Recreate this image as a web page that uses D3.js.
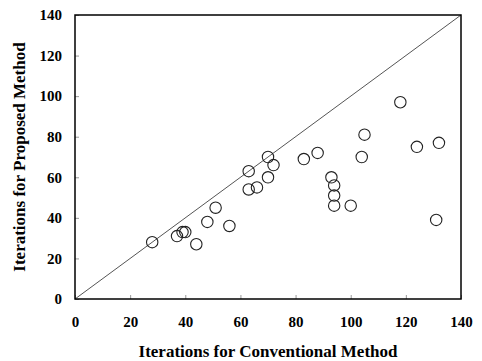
<!DOCTYPE html>
<html>
<head>
<meta charset="utf-8">
<script src="https://cdn.jsdelivr.net/npm/d3@7"></script>
<style>
  body { margin: 0; background: #fff; }
  svg { display: block; }
  text { font-family: "Liberation Serif", "Times New Roman", serif; font-weight: bold; fill: #000; }
</style>
</head>
<body>
<figure id="scatter" style="margin:0"></figure>
<script>
// iterations needed by each method, one entry per test case
const conventional = [28, 37, 39, 40, 44, 48, 51, 56, 63, 63, 66, 70, 72, 70, 83, 88, 93, 94, 94, 94, 100, 104, 105, 118, 124, 132, 131];
const proposed     = [28, 31, 33, 33, 27, 38, 45, 36, 63, 54, 55, 70, 66, 60, 69, 72, 60, 56, 51, 46, 46, 70, 81, 97, 75, 77, 39];
const tickValues = [0, 20, 40, 60, 80, 100, 120, 140];

const width = 482, height = 361;
const margin = { top: 15, right: 21, bottom: 62, left: 75 };
const w = width - margin.left - margin.right;
const h = height - margin.top - margin.bottom;

const svg = d3.select("figure#scatter")
  .append("svg")
  .attr("width", width)
  .attr("height", height)
  .append("g")
  .attr("transform", "translate(" + margin.left + "," + margin.top + ")");

const x = d3.scaleLinear().domain([0, 140]).range([0, w]);
const y = d3.scaleLinear().domain([0, 140]).range([h, 0]);

// inward ticks, labels drawn separately
const xAxis = svg.append("g")
  .attr("transform", "translate(0," + h + ")")
  .call(d3.axisBottom(x).tickValues(tickValues).tickSize(-4).tickPadding(17));
xAxis.select(".domain").remove();
xAxis.selectAll("line").attr("stroke", "#999");
xAxis.selectAll("text").attr("dy", "0.71em");

const yAxis = svg.append("g")
  .call(d3.axisLeft(y).tickValues(tickValues).tickSize(-4).tickPadding(13));
yAxis.select(".domain").remove();
yAxis.selectAll("line").attr("stroke", "#999");
svg.selectAll(".tick text")
  .style("font-size", "15px")
  .style("font-family", "'Liberation Serif', serif")
  .style("font-weight", "bold");

// 1:1 reference line
svg.append("line")
  .attr("x1", x(0)).attr("y1", y(0))
  .attr("x2", x(140)).attr("y2", y(140))
  .attr("stroke", "#555")
  .attr("stroke-width", 1);

svg.selectAll("circle")
  .data(conventional.map((c, i) => [c, proposed[i]]))
  .enter()
  .append("circle")
  .attr("cx", d => x(d[0]))
  .attr("cy", d => y(d[1]))
  .attr("r", 5.7)
  .attr("fill", "none")
  .attr("stroke", "#222")
  .attr("stroke-width", 1.1);

// frame
svg.append("rect")
  .attr("width", w).attr("height", h)
  .attr("fill", "none")
  .attr("stroke", "#000")
  .attr("stroke-width", 1.5);

svg.append("text")
  .attr("x", w / 2)
  .attr("y", h + 58)
  .attr("text-anchor", "middle")
  .attr("font-size", "17px")
  .text("Iterations for Conventional Method");

svg.append("text")
  .attr("transform", "translate(" + (-56) + "," + (h / 2) + ") rotate(-90)")
  .attr("text-anchor", "middle")
  .attr("dominant-baseline", "central")
  .attr("font-size", "17px")
  .text("Iterations for Proposed Method");
</script>
</body>
</html>
